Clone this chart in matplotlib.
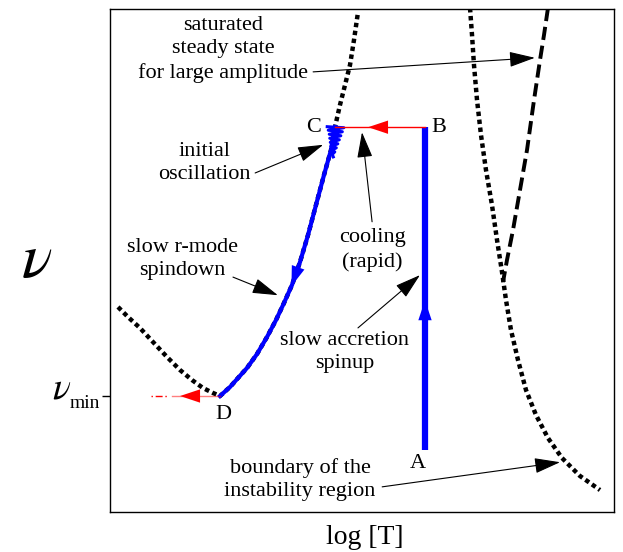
"""Schematic r-mode spin/temperature evolution diagram (nu vs log T)."""
import matplotlib
import matplotlib.pyplot as plt

matplotlib.use("Agg")
plt.rcParams.update({
    "font.family": "Liberation Serif",
    "mathtext.fontset": "stix",
    "font.size": 16,
})

# accretion spinup A -> B (log T, nu), arbitrary units 0..100
ACC_X = [62.5, 62.5]
ACC_Y = [12.3, 76.5]

# cooling B -> C
COOL_X = [62.5, 44.6]
COOL_Y = [76.5, 76.5]

# r-mode spindown C -> D
SPIN_X = [44.64, 43.85, 42.46, 40.87, 39.29, 37.70, 36.11, 34.52, 32.94, 31.15,
          29.17, 27.18, 25.40, 23.81, 22.82, 21.83]
SPIN_Y = [76.54, 71.97, 67.00, 61.03, 55.07, 49.70, 45.13, 41.55, 38.17, 34.79,
          31.41, 28.63, 26.64, 24.85, 23.96, 23.06]

# initial oscillation around C
OSC_X = [43.1, 46.4, 43.3, 46.1, 43.5, 45.8, 43.6, 45.5, 43.7, 45.2, 43.8, 44.9,
         43.9, 44.6, 44.1, 44.3]
OSC_Y = [76.6, 76.4, 75.9, 75.6, 75.1, 74.8, 74.3, 74.0, 73.5, 73.2, 72.7, 72.4,
         71.9, 71.6, 71.1, 70.6]

# after D: spin-down continues below nu_min
NU_MIN = 23.06
EXIT_X = [21.8, 12.3]
TAIL_X = [8.1, 11.3]

# boundary of instability region (low-T branch), passes under the spindown track
BND1_X = [1.59, 3.57, 5.95, 8.53, 11.31, 13.89, 16.27, 18.45, 20.44, 21.83,
          22.82, 23.81, 25.40, 27.18, 29.17, 31.15, 32.94, 34.52, 36.11, 37.70,
          39.29, 40.87, 42.46, 43.85, 44.64, 45.63, 46.63, 47.62, 48.41, 49.21]
BND1_Y = [40.76, 38.77, 36.58, 33.80, 30.82, 28.23, 26.24, 24.65, 23.66, 23.06,
          23.96, 24.85, 26.64, 28.63, 31.41, 34.79, 38.17, 41.55, 45.13, 49.70,
          55.07, 61.03, 67.00, 71.97, 76.54, 80.91, 84.89, 88.87, 93.84, 99.40]

# boundary of instability region (high-T branch)
BND2_X = [71.43, 71.83, 72.22, 72.82, 73.61, 74.60, 75.79, 76.79, 77.78, 78.57,
          79.56, 80.95, 82.54, 84.52, 86.90, 89.68, 93.25, 97.22]
BND2_Y = [100.20, 94.83, 88.87, 81.91, 74.95, 67.99, 61.03, 54.08, 47.71, 42.15,
          36.18, 30.22, 24.25, 19.28, 14.71, 10.74, 7.16, 4.37]

# saturated steady state for large amplitude
SAT_X = [86.90, 86.11, 85.32, 84.13, 82.74, 81.35, 79.96, 78.77, 77.98]
SAT_Y = [100.20, 94.83, 89.86, 81.91, 71.97, 64.02, 56.06, 50.10, 45.73]

BLUE = "#0000ff"
RED = "#ff0000"

fig = plt.figure(figsize=(6.23, 5.52), dpi=100)
ax = fig.add_axes([110 / 623, 40 / 552, 504 / 623, 503 / 552])
ax.set_xlim(0, 100)
ax.set_ylim(0, 100)

dot = dict(color="black", lw=3.2, linestyle=(0, (1.0, 0.8)), zorder=2)
ax.plot(BND1_X, BND1_Y, **dot)
ax.plot(BND2_X, BND2_Y, **dot)
ax.plot(SAT_X, SAT_Y, color="black", lw=2.8, linestyle=(0, (3.4, 1.5)), zorder=2)

ax.plot(ACC_X, ACC_Y, color=BLUE, lw=4.5, solid_capstyle="butt", zorder=3)
ax.plot(SPIN_X, SPIN_Y, color=BLUE, lw=3.0, zorder=3)
ax.plot(OSC_X, OSC_Y, color=BLUE, lw=2.2, zorder=3)
ax.plot(COOL_X, COOL_Y, color=RED, lw=1.0, zorder=3)
ax.plot(EXIT_X, [NU_MIN, NU_MIN], color=RED, lw=1.0, alpha=0.5, zorder=3)
ax.plot(TAIL_X, [NU_MIN, NU_MIN], color=RED, lw=1.0, linestyle=(0, (1, 2, 5, 2)), zorder=3)

# direction arrows on the track
head = dict(arrowstyle="-|>,head_length=0.9,head_width=0.3", lw=0, shrinkA=0, shrinkB=0)
ax.annotate("", xy=(62.5, 42.1), xytext=(62.5, 39.0),
            arrowprops=dict(head, color=BLUE))
ax.annotate("", xy=(51.2, 76.5), xytext=(55.0, 76.5),
            arrowprops=dict(head, color=RED))
ax.annotate("", xy=(36.0, 44.9), xytext=(37.7, 49.7),
            arrowprops=dict(head, color=BLUE))
ax.annotate("", xy=(13.9, NU_MIN), xytext=(17.5, NU_MIN),
            arrowprops=dict(head, color=RED))

# point labels
for lab, x, y in [("A", 61.1, 9.7), ("B", 65.3, 76.5), ("C", 40.3, 76.5), ("D", 22.4, 19.3)]:
    ax.text(x, y, lab, ha="center", va="center", fontsize=16)

# explanatory labels with arrows
arr = dict(arrowstyle="-|>,head_length=1.0,head_width=0.3", color="black", lw=0.8,
           shrinkA=0, shrinkB=0)
notes = [
    ("saturated\nsteady state\nfor large amplitude", (22.4, 92.0), (40.3, 87.5), (84.3, 90.3)),
    ("initial\noscillation", (18.8, 69.4), (28.8, 67.4), (42.3, 73.0)),
    ("cooling\n(rapid)", (52.0, 52.1), (52.0, 57.7), (50.0, 75.5)),
    ("slow r-mode\nspindown", (14.3, 50.3), (24.4, 46.7), (33.3, 43.1)),
    ("slow accretion\nspinup", (46.6, 31.8), (49.2, 36.6), (61.5, 47.1)),
    ("boundary of the\ninstability region", (37.7, 6.4), (54.0, 5.0), (89.3, 9.9)),
]
for txt, pos, start, end in notes:
    ax.text(pos[0], pos[1], txt, ha="center", va="center", fontsize=16,
            linespacing=1.3)
    ax.annotate("", xy=end, xytext=start, arrowprops=arr)

ax.set_xticks([])
ax.set_yticks([NU_MIN])
ax.set_yticklabels([""])
ax.tick_params(axis="y", length=6, width=1)
for s in ax.spines.values():
    s.set_linewidth(1.0)

fig.text(62 / 623, 1 - 389 / 552, r"$\nu$", fontsize=27, ha="center", va="center")
fig.text(70 / 623, 1 - 403 / 552, "min", fontsize=14, ha="left", va="center")
fig.text(37 / 623, 1 - 262 / 552, r"$\nu$", fontsize=46, ha="center", va="center")
fig.text(365 / 623, 1 - 538 / 552, "log [T]", fontsize=20, ha="center", va="center")

fig.savefig("out.png", dpi=100)
